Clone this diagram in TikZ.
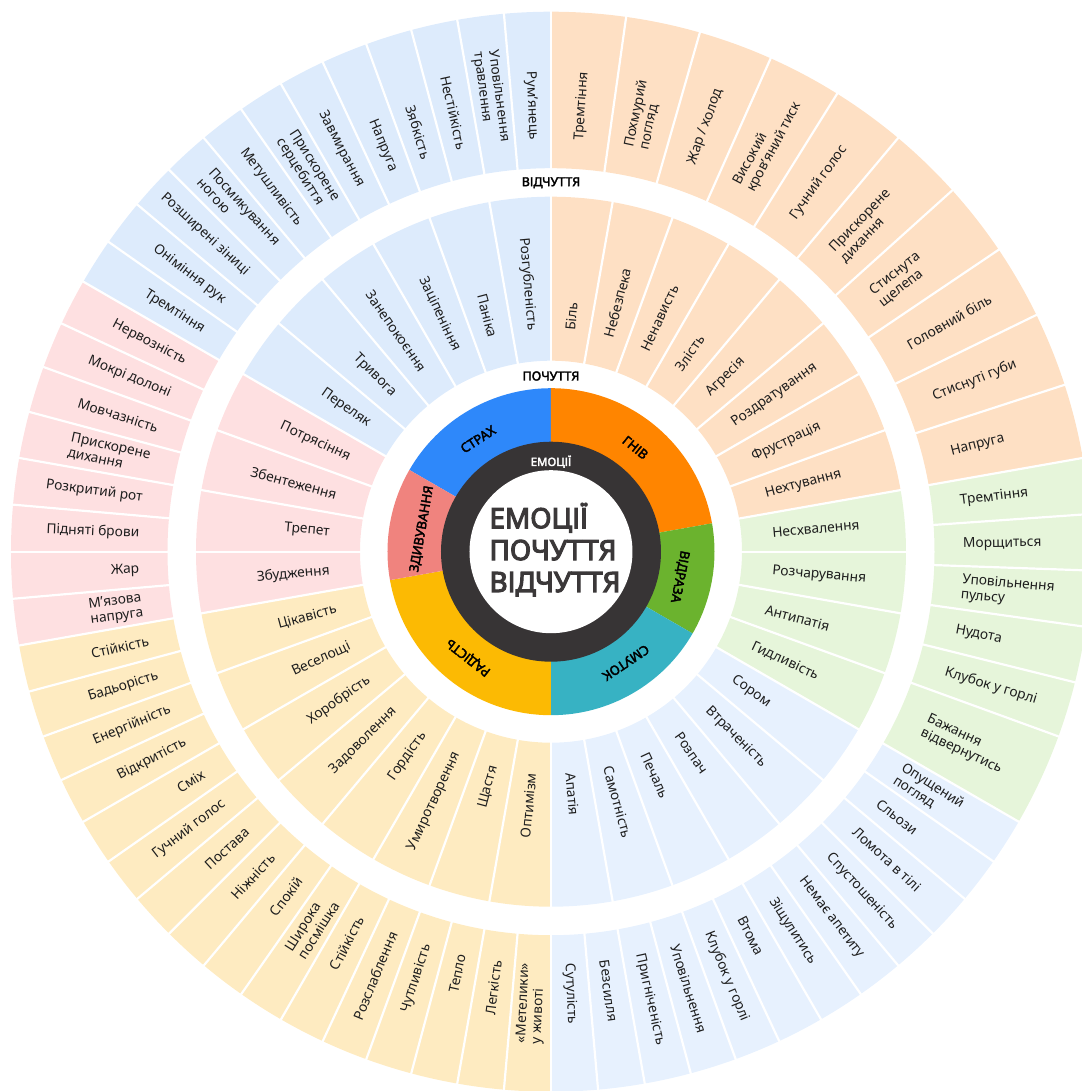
\documentclass[tikz,border=0pt]{standalone}
\usepackage{fontspec}
\setmainfont{Noto Sans}
\newfontfamily\bfa{Noto Sans}[FakeBold=2.8]
\newfontfamily\bft{Noto Sans}[FakeBold=4]
\definecolor{cFear}{HTML}{2E88FA}
\definecolor{cAnger}{HTML}{FF8500}
\definecolor{cDisg}{HTML}{6BB32E}
\definecolor{cSad}{HTML}{37B2C3}
\definecolor{cJoy}{HTML}{FCBA03}
\definecolor{cSurp}{HTML}{F0837E}
\definecolor{lFear}{HTML}{DDEBFC}
\definecolor{lAnger}{HTML}{FEE0C4}
\definecolor{lDisg}{HTML}{E6F5DA}
\definecolor{lSad}{HTML}{E7F1FE}
\definecolor{lJoy}{HTML}{FEEBC1}
\definecolor{lSurp}{HTML}{FEE0E1}
\definecolor{darkring}{HTML}{373435}
\definecolor{titlec}{HTML}{3B3839}
\definecolor{txt}{HTML}{1E1E1E}
\newcounter{lblc}
\newcommand{\ringseg}[5]{\fill[#5] (#1:#3) arc[start angle=#1, end angle=#2, radius=#3] -- (#2:#4) arc[start angle=#2, end angle=#1, radius=#4] -- cycle;}
\newcommand{\lbl}[3]{%
  \stepcounter{lblc}%
  \pgfmathtruncatemacro{\lblside}{cos(#1)>0}%
  \ifnum\lblside=1
    \node[seglbl, anchor=west, rotate=#1] (lbl\arabic{lblc}) at (#1:#2) {#3};%
  \else
    \node[seglbl, anchor=east, rotate=#1-180] (lbl\arabic{lblc}) at (#1:#2) {#3};%
  \fi}
\begin{document}
\begin{tikzpicture}[x=1bp,y=1bp,
  seglbl/.style={font=\fontsize{13.8}{15.5}\selectfont, text=txt, inner sep=0pt, align=left},
  emolbl/.style={font=\bfa\fontsize{13}{15}\selectfont, text=black, inner sep=0pt},
  ringlbl/.style={font=\bfa\fontsize{12.5}{14}\selectfont, inner sep=0pt},
  titlelbl/.style={font=\bft\fontsize{28}{32}\selectfont, text=titlec, align=left, inner sep=0pt},
  segsep/.style={white, line width=2.2}]
\useasboundingbox (-551,-539.3) rectangle (531,551.7);
\clip (-551,-539.3) rectangle (531,551.7);
% outer ring (sensations)
\ringseg{90}{150}{383.5}{540}{lFear}
\ringseg{10}{90}{383.5}{540}{lAnger}
\ringseg{-30}{10}{383.5}{540}{lDisg}
\ringseg{-90}{-30}{383.5}{540}{lSad}
\ringseg{-170}{-90}{383.5}{540}{lJoy}
\ringseg{150}{190}{383.5}{540}{lSurp}
% middle ring (feelings)
\ringseg{90}{150}{191}{355}{lFear}
\ringseg{10}{90}{191}{355}{lAnger}
\ringseg{-30}{10}{191}{355}{lDisg}
\ringseg{-90}{-30}{191}{355}{lSad}
\ringseg{-170}{-90}{191}{355}{lJoy}
\ringseg{150}{190}{191}{355}{lSurp}
% inner ring (emotions)
\ringseg{90}{150}{105}{163.5}{cFear}
\ringseg{10}{90}{105}{163.5}{cAnger}
\ringseg{-30}{10}{105}{163.5}{cDisg}
\ringseg{-90}{-30}{105}{163.5}{cSad}
\ringseg{-170}{-90}{105}{163.5}{cJoy}
\ringseg{150}{190}{105}{163.5}{cSurp}
\fill[darkring] (0,0) circle[radius=110];
\fill[white] (0,0) circle[radius=81.5];
% separators
\foreach \a in {0,10,...,350} \draw[segsep] (\a:189) -- (\a:357);
\foreach \a in {90,95,...,330} \draw[segsep] (\a:381) -- (\a:542);
\foreach \a in {340,346,352,358,364} \draw[segsep] (\a:381) -- (\a:542);
\foreach \a in {10,18,...,90} \draw[segsep] (\a:381) -- (\a:542);
% centre texts
\node[titlelbl] (title) at (4,2) {ЕМОЦІЇ\\ПОЧУТТЯ\\ВІДЧУТТЯ};
\node[ringlbl, text=white, font=\bfa\fontsize{11.5}{13}\selectfont] (emo) at (0,90) {ЕМОЦІЇ};
\node[ringlbl] (poch) at (0,175.7) {ПОЧУТТЯ};
\node[ringlbl] (vidch) at (0,369) {ВІДЧУТТЯ};
% emotion labels
\node[emolbl, rotate=33] (e1) at (123:134) {СТРАХ};
\node[emolbl, rotate=-39] (e2) at (51:134) {ГНІВ};
\node[emolbl, rotate=-101] (e3) at (-11:131) {ВІДРАЗА};
\node[emolbl, rotate=-146] (e4) at (-56:134) {СМУТОК};
\node[emolbl, rotate=-218] (e5) at (-128:134) {РАДІСТЬ};
\node[emolbl, rotate=80] (e6) at (170:131) {ЗДИВУВАННЯ};
% feelings
\lbl{95}{222}{Розгубленість}
\lbl{105}{222}{Паніка}
\lbl{115}{222}{Заціпеніння}
\lbl{125}{222}{Занепокоєння}
\lbl{135}{222}{Тривога}
\lbl{145}{222}{Переляк}
\lbl{85}{222}{Біль}
\lbl{75}{222}{Небезпека}
\lbl{65}{222}{Ненависть}
\lbl{55}{222}{Злість}
\lbl{45}{222}{Агресія}
\lbl{35}{222}{Роздратування}
\lbl{25}{222}{Фрустрація}
\lbl{15}{222}{Нехтування}
\lbl{5}{222}{Несхвалення}
\lbl{-5}{222}{Розчарування}
\lbl{-15}{222}{Антипатія}
\lbl{-25}{222}{Гидливість}
\lbl{-35}{222}{Сором}
\lbl{-45}{222}{Втраченість}
\lbl{-55}{222}{Розпач}
\lbl{-65}{222}{Печаль}
\lbl{-75}{222}{Самотність}
\lbl{-85}{222}{Апатія}
\lbl{-95}{222}{Оптимізм}
\lbl{-105}{222}{Щастя}
\lbl{-115}{222}{Умиротворення}
\lbl{-125}{222}{Гордість}
\lbl{-135}{222}{Задоволення}
\lbl{-145}{222}{Хоробрість}
\lbl{-155}{222}{Веселощі}
\lbl{-165}{222}{Цікавість}
\lbl{185}{222}{Збудження}
\lbl{175}{222}{Трепет}
\lbl{165}{222}{Збентеження}
\lbl{155}{222}{Потрясіння}
% sensations: fear
\lbl{92.5}{412}{Рум’янець}
\lbl{97.5}{412}{Уповільнення\\травлення}
\lbl{102.5}{412}{Нестійкість}
\lbl{107.5}{412}{Зябкість}
\lbl{112.5}{412}{Напруга}
\lbl{117.5}{412}{Завмирання}
\lbl{122.5}{412}{Прискорене\\серцебиття}
\lbl{127.5}{412}{Метушливість}
\lbl{132.5}{412}{Посмикування\\ногою}
\lbl{137.5}{412}{Розширені зіниці}
\lbl{142.5}{412}{Оніміння рук}
\lbl{147.5}{412}{Тремтіння}
% anger
\lbl{86}{412}{Тремтіння}
\lbl{78}{412}{Похмурий\\погляд}
\lbl{70}{412}{Жар / холод}
\lbl{62}{412}{Високий\\кров’яний тиск}
\lbl{54}{412}{Гучний голос}
\lbl{46}{412}{Прискорене\\дихання}
\lbl{38}{412}{Стиснута\\щелепа}
\lbl{30}{412}{Головний біль}
\lbl{22}{412}{Стиснуті губи}
\lbl{14}{412}{Напруга}
% disgust
\lbl{7}{412}{Тремтіння}
\lbl{1}{412}{Морщиться}
\lbl{-5}{412}{Уповільнення\\пульсу}
\lbl{-11}{412}{Нудота}
\lbl{-17}{412}{Клубок у горлі}
\lbl{-25}{412}{Бажання\\відвернутись}
% sadness
\lbl{-32.5}{412}{Опущений\\погляд}
\lbl{-37.5}{412}{Сльози}
\lbl{-42.5}{412}{Ломота в тілі}
\lbl{-47.5}{412}{Спустошеність}
\lbl{-52.5}{412}{Немає апетиту}
\lbl{-57.5}{412}{Зіщулитись}
\lbl{-62.5}{412}{Втома}
\lbl{-67.5}{412}{Клубок у горлі}
\lbl{-72.5}{412}{Уповільнення}
\lbl{-77.5}{412}{Пригніченість}
\lbl{-82.5}{412}{Безсилля}
\lbl{-87.5}{412}{Сутулість}
% joy
\lbl{-92.5}{412}{«Метелики»\\у животі}
\lbl{-97.5}{412}{Легкість}
\lbl{-102.5}{412}{Тепло}
\lbl{-107.5}{412}{Чутливість}
\lbl{-112.5}{412}{Розслаблення}
\lbl{-117.5}{412}{Стійкість}
\lbl{-122.5}{412}{Широка\\посмішка}
\lbl{-127.5}{412}{Спокій}
\lbl{-132.5}{412}{Ніжність}
\lbl{-137.5}{412}{Постава}
\lbl{-142.5}{412}{Гучний голос}
\lbl{-147.5}{412}{Сміх}
\lbl{-152.5}{412}{Відкритість}
\lbl{-157.5}{412}{Енергійність}
\lbl{-162.5}{412}{Бадьорість}
\lbl{-167.5}{412}{Стійкість}
% surprise
\lbl{187.5}{412}{М’язова\\напруга}
\lbl{182.5}{412}{Жар}
\lbl{177.5}{412}{Підняті брови}
\lbl{172.5}{412}{Розкритий рот}
\lbl{167.5}{412}{Прискорене\\дихання}
\lbl{162.5}{412}{Мовчазність}
\lbl{157.5}{412}{Мокрі долоні}
\lbl{152.5}{412}{Нервозність}
\end{tikzpicture}
\end{document}
